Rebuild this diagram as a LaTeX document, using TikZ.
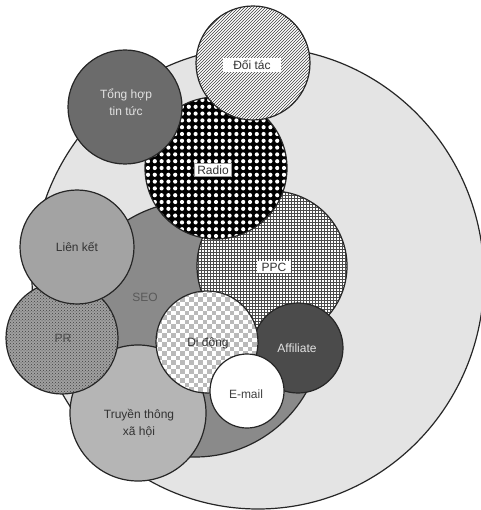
\documentclass[tikz,border=0pt]{standalone}
\usepackage{fontspec}
\setmainfont{Liberation Sans}
\usetikzlibrary{patterns}
\definecolor{bigc}{HTML}{E4E4E4}
\definecolor{seoc}{HTML}{8A8A8A}
\definecolor{linkc}{HTML}{A3A3A3}
\definecolor{socc}{HTML}{B5B5B5}
\definecolor{newsc}{HTML}{6B6B6B}
\definecolor{affc}{HTML}{4B4B4B}
\definecolor{prc}{HTML}{A0A0A0}
\definecolor{chkc}{HTML}{BABABA}
\definecolor{txtd}{HTML}{333333}
\definecolor{txtl}{HTML}{E2E2E2}
\begin{document}
\begin{tikzpicture}[x=1pt,y=-1pt,
  outl/.style={draw=black!85, line width=1.2pt},
  lbl/.style={font=\fontsize{12}{17}\selectfont, align=center, inner sep=1pt, text=txtd},
  boxed/.style={fill=white, inner ysep=2pt}]
\useasboundingbox (0,0) rectangle (480,510);
\fill[white] (0,0) rectangle (480,510);
% outer circle
\draw[outl, fill=bigc] (258,278) ellipse [x radius=226pt, y radius=231pt];
% SEO
\draw[outl, fill=seoc] (195,329) circle (128pt);
% Truyen thong xa hoi
\draw[outl, fill=socc] (138,413) circle (68pt);
% PR
\fill[prc] (62,338) circle (56pt);
\fill[pattern=crosshatch dots, pattern color=black!75] (62,338) circle (56pt);
\draw[outl] (62,338) circle (56pt);
% Lien ket
\draw[outl, fill=linkc] (77,247) circle (57pt);
% PPC
\fill[white] (272,266) circle (75pt);
\fill[pattern=grid, pattern color=black!70] (272,266) circle (75pt);
\draw[outl] (272,266) circle (75pt);
% Radio
\begin{scope}
  \clip (216,168) circle (71pt);
  \fill[black] (216,168) circle (71pt);
  \foreach \i in {-11,...,11}{
    \foreach \j in {-11,...,11}{
      \fill[white] ({216+\i*6.8},{168+\j*6.8}) circle (2.1pt);
    }
  }
\end{scope}
\draw[outl] (216,168) circle (71pt);
% Tong hop tin tuc
\draw[outl, fill=newsc] (125,107) circle (57pt);
% Doi tac
\fill[white] (253,63) circle (57pt);
\fill[pattern=north east lines, pattern color=black!75] (253,63) circle (57pt);
\draw[outl] (253,63) circle (57pt);
% Affiliate
\draw[outl, fill=affc] (298,348) circle (45pt);
% Di dong
\begin{scope}
  \clip (207,342) circle (51pt);
  \fill[white] (207,342) circle (51pt);
  \foreach \i in {-12,-10,...,12}{
    \foreach \j in {-12,-10,...,12}{
      \fill[chkc] ({207+\i*4.5},{342+\j*4.5}) rectangle ++(4.5,4.5);
      \fill[chkc] ({207+(\i+1)*4.5},{342+(\j+1)*4.5}) rectangle ++(4.5,4.5);
    }
  }
\end{scope}
\draw[outl] (207,342) circle (51pt);
% E-mail
\draw[outl, fill=white] (247,391) circle (37pt);
% labels
\node[lbl, boxed, inner xsep=10pt] (doitac) at (252,65) {Đối tác};
\node[lbl, text=txtl] (tonghop) at (126,102) {Tổng hợp\\tin tức};
\node[lbl, boxed, inner xsep=3pt, draw=black!40, line width=0.4pt] (radio) at (213,170) {Radio};
\node[lbl, boxed, inner xsep=5pt] (ppc) at (274,267) {PPC};
\node[lbl] (lienket) at (77,247) {Liên kết};
\node[lbl, text=black!65] (seo) at (145,297) {SEO};
\node[lbl, text=black!70] (pr) at (63,338) {PR};
\node[lbl] (didong) at (208,343) {Di động};
\node[lbl, text=txtl] (affiliate) at (297,348) {Affiliate};
\node[lbl, text=black!75] (email) at (246,394) {E-mail};
\node[lbl] (truyenthong) at (139,423) {Truyền thông\\xã hội};
\end{tikzpicture}
\end{document}
